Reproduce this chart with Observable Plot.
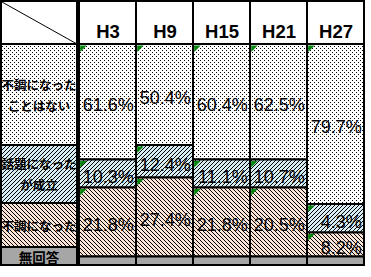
<!DOCTYPE html>
<html><head><meta charset="utf-8">
<script src="https://cdn.jsdelivr.net/npm/d3@7"></script>
<script src="https://cdn.jsdelivr.net/npm/@observablehq/plot@0.6"></script>
<style>
html,body{margin:0;padding:0;background:#fff;}
#wrap{position:relative;width:371px;height:277px;overflow:hidden;}
#wrap > svg{position:absolute;left:0;top:0;}
</style></head><body>
<svg width="0" height="0" style="position:absolute">
<defs>
<pattern id="dots" patternUnits="userSpaceOnUse" width="4" height="4">
 <rect width="4" height="4" fill="#fff"/>
 <rect x="0" y="0" width="1" height="1" fill="#000"/>
 <rect x="2" y="2" width="1" height="1" fill="#000"/>
</pattern>
<pattern id="up" patternUnits="userSpaceOnUse" width="4" height="4">
 <rect width="4" height="4" fill="#d6edf4"/>
 <rect x="3" y="0" width="1" height="1" fill="#000"/>
 <rect x="2" y="1" width="1" height="1" fill="#000"/>
 <rect x="1" y="2" width="1" height="1" fill="#000"/>
 <rect x="0" y="3" width="1" height="1" fill="#000"/>
</pattern>
<pattern id="down" patternUnits="userSpaceOnUse" width="4" height="4">
 <rect width="4" height="4" fill="#fce4d6"/>
 <rect x="0" y="0" width="1" height="1" fill="#000"/>
 <rect x="1" y="1" width="1" height="1" fill="#000"/>
 <rect x="2" y="2" width="1" height="1" fill="#000"/>
 <rect x="3" y="3" width="1" height="1" fill="#000"/>
</pattern>
</defs></svg>
<div id="wrap"></div>
<script>
// ---- data ----
const eras = ["H3", "H9", "H15", "H21", "H27"];
const categories = ["不調になったことはない", "話題になったが成立", "不調になった", "無回答"];
const categoryLines = [["不調になった", "ことはない"], ["話題になった", "が成立"], ["不調になった"], ["無回答"]];
const neverBroken = [61.6, 50.4, 60.4, 62.5, 79.7];
const settled     = [10.3, 12.4, 11.1, 10.7, 4.3];
const broken      = [21.8, 27.4, 21.8, 20.5, 8.2];
const noAnswer    = [6.3, 9.8, 6.7, 6.3, 7.8];

// ---- the reference's uneven (table-row) vertical scale, piecewise ----
const yBreaks = [0, 50.4, 60.4, 62.5, 62.8, 71.5, 73.2, 79.7, 84.0, 90.2, 93.7, 100];
const yPixels = [44, 145, 159.5, 159.5, 177.5, 187.5, 187.5, 204, 232.5, 256.5, 256.5, 265];
const yS = d3.scaleLinear(yBreaks, yPixels);

const fills = ["url(#dots)", "url(#up)", "url(#down)", "#a6a6a6"];
const series = [neverBroken, settled, broken, noAnswer];

const table = [];
eras.forEach((era, i) => {
  let acc = 0;
  series.forEach((vals, k) => {
    const v = vals[i];
    table.push({era, category: categories[k], k, value: v, y1: acc, y2: acc + v});
    acc += v;
  });
});
const labelled = table.filter(d => d.k < 3);

const W = 371, H = 277, mL = 77, mR = 6;
const bw = (W - mL - mR) / eras.length;

const corner = {
  draw(ctx) { ctx.moveTo(0, 0); ctx.lineTo(6.5, 0); ctx.lineTo(0, 6.5); ctx.closePath(); }
};

const chart = Plot.plot({
  width: W, height: H,
  marginLeft: mL, marginRight: mR, marginTop: 44, marginBottom: 11,
  style: {background: "transparent", fontFamily: "'Liberation Sans', Arial, sans-serif"},
  x: {type: "band", domain: eras, padding: 0, axis: null},
  y: {type: "linear", domain: yBreaks, range: yPixels, axis: null},
  color: {type: "ordinal", domain: categories, range: fills},
  marks: [
    // header cells
    Plot.barY(eras, {x: d => d, y1: 0, y2: 0, insetTop: -43, fill: "white", stroke: "black", strokeWidth: 2}),
    Plot.text(eras, {x: d => d, text: d => d, frameAnchor: "top", dy: -20, fontSize: 18.5, fontWeight: "bold", letterSpacing: -1}),
    // stacked cells
    Plot.barY(table, {x: "era", y1: "y1", y2: "y2", fill: "category", stroke: "black", strokeWidth: 2}),
    Plot.dot(labelled, {x: "era", y: "y1", symbol: corner, fill: "#00870b", stroke: "none", dx: -bw / 2 + 1, dy: 1}),
    Plot.text(labelled, {
      x: "era",
      y: d => yS.invert((yS(d.y1) + yS(d.y2)) / 2),
      text: d => d.value.toFixed(1) + "%",
      textAnchor: "end", dx: bw / 2 - 3, dy: 3,
      fontSize: 18, letterSpacing: -0.6, fill: "black"
    })
  ]
});
document.getElementById("wrap").appendChild(chart);

// ---- row-label column (legend) ----
const rowEdges = [44, 145, 203, 247, 265];
const leg = d3.create("svg").attr("width", 79).attr("height", 268)
  .style("font-family", "'Noto Sans CJK JP', sans-serif");
leg.append("rect").attr("x", 1).attr("y", 1).attr("width", 76).attr("height", 43)
  .attr("fill", "white").attr("stroke", "black").attr("stroke-width", 2);
leg.append("line").attr("x1", 2).attr("y1", 2).attr("x2", 77).attr("y2", 44)
  .attr("stroke", "black").attr("stroke-width", 1);
categories.forEach((c, k) => {
  const top = rowEdges[k], bot = rowEdges[k + 1];
  leg.append("rect").attr("x", 1).attr("y", top).attr("width", 76).attr("height", bot - top)
    .attr("fill", fills[k]).attr("stroke", "black").attr("stroke-width", 2);
  const lines = categoryLines[k];
  const mid = (top + bot) / 2 + (k === 3 ? 1 : 0);
  lines.forEach((t, j) => {
    leg.append("text").attr("x", 39).attr("y", mid + (j - (lines.length - 1) / 2) * 21)
      .attr("text-anchor", "middle").attr("dominant-baseline", "central")
      .attr("font-size", k === 3 ? 13.5 : 12.5).attr("font-weight", "bold")
      .attr("fill", "black").text(t);
  });
});
document.getElementById("wrap").appendChild(leg.node());
</script>
</body></html>
